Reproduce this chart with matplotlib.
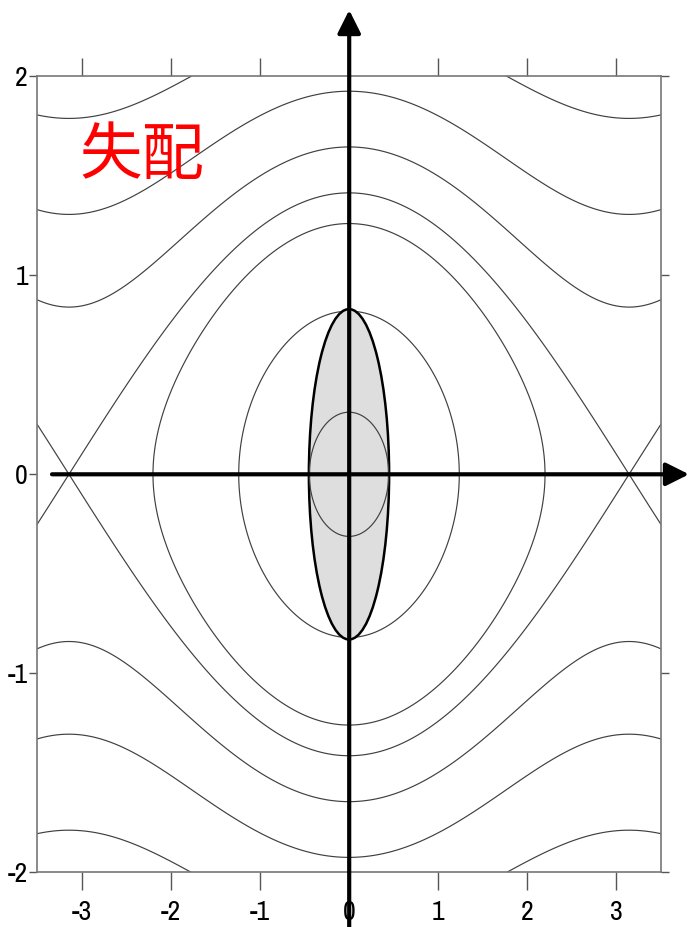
import numpy as np
import matplotlib
matplotlib.use("Agg")
import matplotlib.pyplot as plt
from matplotlib import font_manager
from matplotlib.patches import Ellipse, FancyArrowPatch

# prefer a narrow sans for the tick numbers if one is installed
narrow = [f.name for f in font_manager.fontManager.ttflist
          if 'Narrow' in f.name or 'Condensed' in f.name]
tick_font = dict(family=(narrow[:1] + ['Liberation Sans', 'DejaVu Sans']))
plt.rcParams['axes.unicode_minus'] = False

# phase-space orbits, labelled by their momentum at phase 0
orbit_y0 = [0.312, 0.82, 1.26, np.sqrt(2), 1.645, 1.925, 2.28]
# mismatched beam ellipse (half widths in phase, momentum)
beam_half = [0.45, 0.83]
xticks = [-3, -2, -1, 0, 1, 2, 3]
yticks = [-2, -1, 0, 1, 2]
title = "失配"

W, H = 689, 927
fig = plt.figure(figsize=(W / 100, H / 100), dpi=100)
ax = fig.add_axes([37 / W, 1 - 872.3 / H, (661 - 37) / W, (872.3 - 76.3) / H])

# Hamiltonian of the pendulum: y^2/2 + (1 - cos x)/2
x = np.linspace(-3.6, 3.6, 1500)
y = np.linspace(-2.6, 2.6, 1500)
X, Y = np.meshgrid(x, y)
Ham = 0.5 * Y**2 + 0.5 * (1 - np.cos(X))
levels = sorted(0.5 * np.array(orbit_y0) ** 2)
ax.contour(X, Y, Ham, levels=levels, colors='#404040', linewidths=0.85)

ell = Ellipse((0, 0), 2 * beam_half[0], 2 * beam_half[1],
              facecolor='#dedede', edgecolor='black', linewidth=1.8, zorder=3)
ax.add_patch(ell)
# inner orbit is still visible through the fill
ax.contour(X, Y, Ham, levels=[levels[0]], colors='#404040', linewidths=0.85, zorder=4)

ax.set_xlim(-3.5, 3.5)
ax.set_ylim(-2, 2)
ax.set_xticks(xticks)
ax.set_yticks(yticks)
ax.set_xticklabels([str(t) for t in xticks], fontsize=20, **tick_font)
ax.set_yticklabels([str(t) for t in yticks], fontsize=20, **tick_font)
ax.tick_params(axis='x', direction='out', length=13, width=1.0, color='#555555',
               top=True, labeltop=False, pad=7)
ax.tick_params(axis='y', direction='out', length=6, width=1.0, color='#555555',
               right=True, pad=0.5)
for sp in ax.spines.values():
    sp.set_color('#777777')
    sp.set_linewidth(1.2)

ax.text(-2.32, 1.6, title, color='red', fontsize=45, ha='center', va='center',
        family=['Noto Sans CJK SC', 'DejaVu Sans'])

# coordinate arrows drawn across the whole figure
x0 = 349.2 / W
y0 = 1 - 474.3 / H
arrow_kw = dict(transform=fig.transFigure, arrowstyle='-|>,head_length=14,head_width=7',
                mutation_scale=1, color='black', linewidth=3.0, shrinkA=0, shrinkB=0,
                zorder=10)
fig.add_artist(FancyArrowPatch((x0, 0), (x0, 1 - 10 / H), **arrow_kw))
fig.add_artist(FancyArrowPatch((52 / W, y0), (689 / W, y0), **arrow_kw))

fig.savefig('out.png', dpi=100)
